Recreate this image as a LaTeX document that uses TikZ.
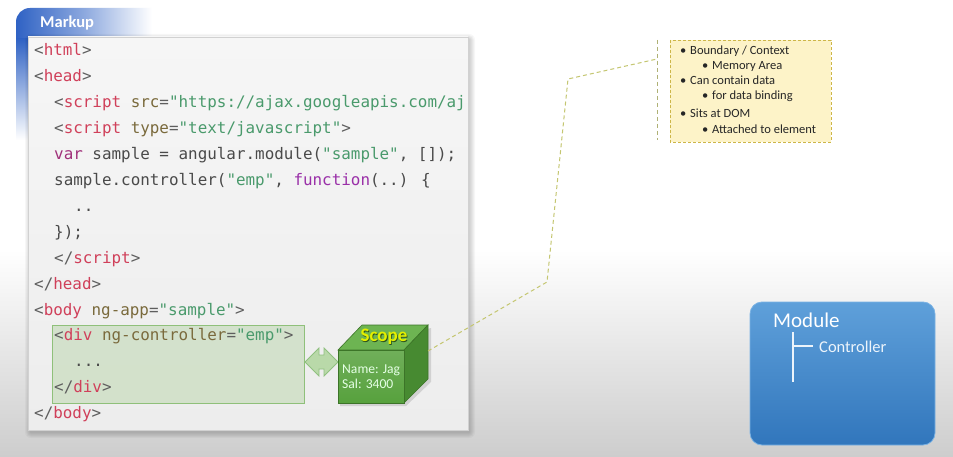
\documentclass[tikz,border=0pt]{standalone}
\usepackage{fontspec}
\setmainfont{Carlito}
\newfontfamily\codefont{DejaVu Sans Mono}
\definecolor{bgbot}{HTML}{CDCDCD}
\definecolor{panelA}{HTML}{F6F6F6}
\definecolor{panelB}{HTML}{EDEDED}
\definecolor{tabblue}{HTML}{2F62C4}
\definecolor{cpun}{HTML}{5E5E5E}
\definecolor{ctag}{HTML}{D0405A}
\definecolor{catt}{HTML}{7A6A3C}
\definecolor{cstr}{HTML}{4A9A6C}
\definecolor{ckey}{HTML}{A0307A}
\definecolor{cfun}{HTML}{9A30A8}
\definecolor{ctxt}{HTML}{4A4A4A}
\definecolor{divfill}{HTML}{CFDFC6}
\definecolor{divline}{HTML}{8FC07A}
\definecolor{arrfill}{HTML}{B9D9A9}
\definecolor{arrline}{HTML}{90C080}
\definecolor{cubefront}{HTML}{57A13D}
\definecolor{cubetop}{HTML}{6DB452}
\definecolor{cuberight}{HTML}{478A31}
\definecolor{cubeline}{HTML}{3C7428}
\definecolor{scopeyel}{HTML}{E4F000}
\definecolor{dashcol}{HTML}{C4C670}
\definecolor{callfill}{HTML}{FDF3C8}
\definecolor{callline}{HTML}{CDB648}
\definecolor{modtop}{HTML}{5FA0DA}
\definecolor{modbot}{HTML}{3176BC}
\definecolor{modline}{HTML}{7AB2E4}
\newcommand\cPun[1]{\textcolor{cpun}{#1}}
\newcommand\cTag[1]{\textcolor{ctag}{#1}}
\newcommand\cAtt[1]{\textcolor{catt}{#1}}
\newcommand\cStr[1]{\textcolor{cstr}{#1}}
\newcommand\cKey[1]{\textcolor{ckey}{#1}}
\newcommand\cFun[1]{\textcolor{cfun}{#1}}
\newcommand\cTxt[1]{\textcolor{ctxt}{#1}}
\tikzset{
  codeline/.style={anchor=base west, inner sep=0pt, font=\codefont\fontsize{15.9}{18}\selectfont},
  calltext/.style={anchor=base west, inner sep=0pt, font=\fontsize{12.5}{14}\selectfont, text=black!85},
  cubetext/.style={anchor=base west, inner sep=0pt, font=\fontsize{13.6}{15}\selectfont, text=green!10!white},
  dashconn/.style={draw=dashcol, line width=1pt, dash pattern=on 4pt off 3pt},
}
\begin{document}
\begin{tikzpicture}[x=1pt,y=-1pt]
\useasboundingbox (0,0) rectangle (953,457);
% background
\fill[white] (0,0) rectangle (953,250);
\shade[top color=white,bottom color=bgbot] (0,249) rectangle (953,457);
% blue tab
\shade[left color=tabblue, right color=white, middle color=tabblue!55!white]
  (16,39) -- (16,22) arc[start angle=180, end angle=270, radius=14] -- (152,8) -- (152,39) -- cycle;
\shade[top color=tabblue, bottom color=white] (16,38.5) rectangle (28.5,140);
\node[anchor=base west, inner sep=0pt, text=white, font=\bfseries\fontsize{16.5}{18}\selectfont] (markup) at (40,28) {Markup};
% panel shadow
\foreach \k in {1,...,6}{
  \fill[black,opacity=0.03,rounded corners=\k pt] (31-\k,40-\k) rectangle (469+\k,432+\k);
}
\shade[top color=panelA,bottom color=panelB,draw=black!18] (28,37) rectangle (468,430);
% code
\node[codeline] (l1) at (34,56) {\cPun{<}\cTag{html}\cPun{>}};
\node[codeline] (l2) at (34,81.9) {\cPun{<}\cTag{head}\cPun{>}};
\node[codeline] (l3) at (54,107.8) {\cPun{<}\cTag{script} \cAtt{src}\cPun{=}\cStr{"https://ajax.googleapis.com/aj}};
\node[codeline] (l4) at (54,133.7) {\cPun{<}\cTag{script} \cAtt{type}\cPun{=}\cStr{"text/javascript"}\cPun{>}};
\node[codeline] (l5) at (54,159.6) {\cKey{var} \cTxt{sample = angular.module(}\cStr{"sample"}\cTxt{, []);}};
\node[codeline] (l6) at (54,185.5) {\cTxt{sample.controller(}\cStr{"emp"}\cTxt{, }\cFun{function}\cTxt{(..) \{}};
\node[codeline] (l7) at (74,211.4) {\cTxt{..}};
\node[codeline] (l8) at (54,237.3) {\cTxt{\});}};
\node[codeline] (l9) at (54,263.2) {\cPun{</}\cTag{script}\cPun{>}};
\node[codeline] (l10) at (34,289.1) {\cPun{</}\cTag{head}\cPun{>}};
% div box
\fill[divfill,opacity=0.85] (52,325.5) rectangle (304,403);
\draw[divline,line width=0.8pt] (52,325.5) rectangle (304,403);
\node[codeline] (l11) at (34,315) {\cPun{<}\cTag{body} \cAtt{ng-app}\cPun{=}\cStr{"sample"}\cPun{>}};
\node[codeline] (l12) at (54,340.9) {\cPun{<}\cTag{div} \cAtt{ng-controller}\cPun{=}\cStr{"emp"}\cPun{>}};
\node[codeline] (l13) at (74,366.8) {\cTxt{...}};
\node[codeline] (l14) at (54,392.7) {\cPun{</}\cTag{div}\cPun{>}};
\node[codeline] (l15) at (34,418.6) {\cPun{</}\cTag{body}\cPun{>}};
% double arrow
\filldraw[fill=arrfill,draw=arrline,line width=0.8pt]
  (305,362) -- (319,348) -- (319,355) -- (324,355) -- (324,348) -- (338,362)
  -- (324,376) -- (324,369) -- (319,369) -- (319,376) -- cycle;
% cube
\fill[black,opacity=0.12] (340,352) -- (340,406) -- (406,406) -- (431,382) -- (431,328) -- cycle;
\filldraw[fill=cubetop,draw=cubeline,line width=0.6pt] (338,350) -- (362,325) -- (428,325) -- (404,350) -- cycle;
\filldraw[fill=cuberight,draw=cubeline,line width=0.6pt] (404,350) -- (428,325) -- (428,379) -- (404,403) -- cycle;
\shade[top color=cubefront!85!white,bottom color=cubefront,draw=cubeline,line width=0.6pt] (338,350) rectangle (404,403);
\coordinate (cubeR) at (428,351);
\node[inner sep=0pt, text=cubeline!70!black, font=\bfseries\fontsize{19}{20}\selectfont] at (384.8,337.8) {Scope};
\node[inner sep=0pt, text=scopeyel, font=\bfseries\fontsize{19}{20}\selectfont] (scope) at (384,337) {Scope};
\node[cubetext] (name) at (342,373) {Name: Jag};
\node[cubetext] (sal) at (342,388.5) {Sal: 3400};
% callout
\coordinate (c1) at (547,282);
\coordinate (c2) at (568,79);
\coordinate (c3) at (657,59);
\draw[dashconn] (cubeR) -- (c1) -- (c2) -- (c3);
\draw[dashconn, draw=dashcol!70!gray] (657,40) -- (657,140);
\filldraw[fill=callfill,draw=callline,line width=0.8pt,dash pattern=on 3pt off 2pt] (670,40) rectangle (831,142);
\node[calltext] (b1) at (680,54.5) {\textbullet};
\node[calltext] (t1) at (690,54.5) {Boundary / Context};
\node[calltext] (b2) at (702,70) {\textbullet};
\node[calltext] (t2) at (712,70) {Memory Area};
\node[calltext] (b3) at (680,84.5) {\textbullet};
\node[calltext] (t3) at (690,84.5) {Can contain data};
\node[calltext] (b4) at (702,100) {\textbullet};
\node[calltext] (t4) at (712,100) {for data binding};
\node[calltext] (b5) at (680,118) {\textbullet};
\node[calltext] (t5) at (690,118) {Sits at DOM};
\node[calltext] (b6) at (702,133.5) {\textbullet};
\node[calltext] (t6) at (712,133.5) {Attached to element};
% module
\shade[top color=modtop,bottom color=modbot,rounded corners=12pt,draw=modline,line width=0.8pt] (750,302) rectangle (935,445);
\node[anchor=base west, inner sep=0pt, text=white, font=\fontsize{21}{24}\selectfont] (module) at (773,327) {Module};
\coordinate (v1) at (793,332);
\coordinate (v2) at (793,382);
\coordinate (h1) at (793,346);
\coordinate (h2) at (813,346);
\draw[white!88!modtop, line width=2pt] (v1) -- (v2);
\draw[white!88!modtop, line width=1.2pt] (h1) -- (h2);
\node[anchor=base west, inner sep=0pt, text=white!88!modtop, font=\fontsize{16.5}{18}\selectfont] (ctrl) at (819,352.5) {Controller};
\end{tikzpicture}
\end{document}
